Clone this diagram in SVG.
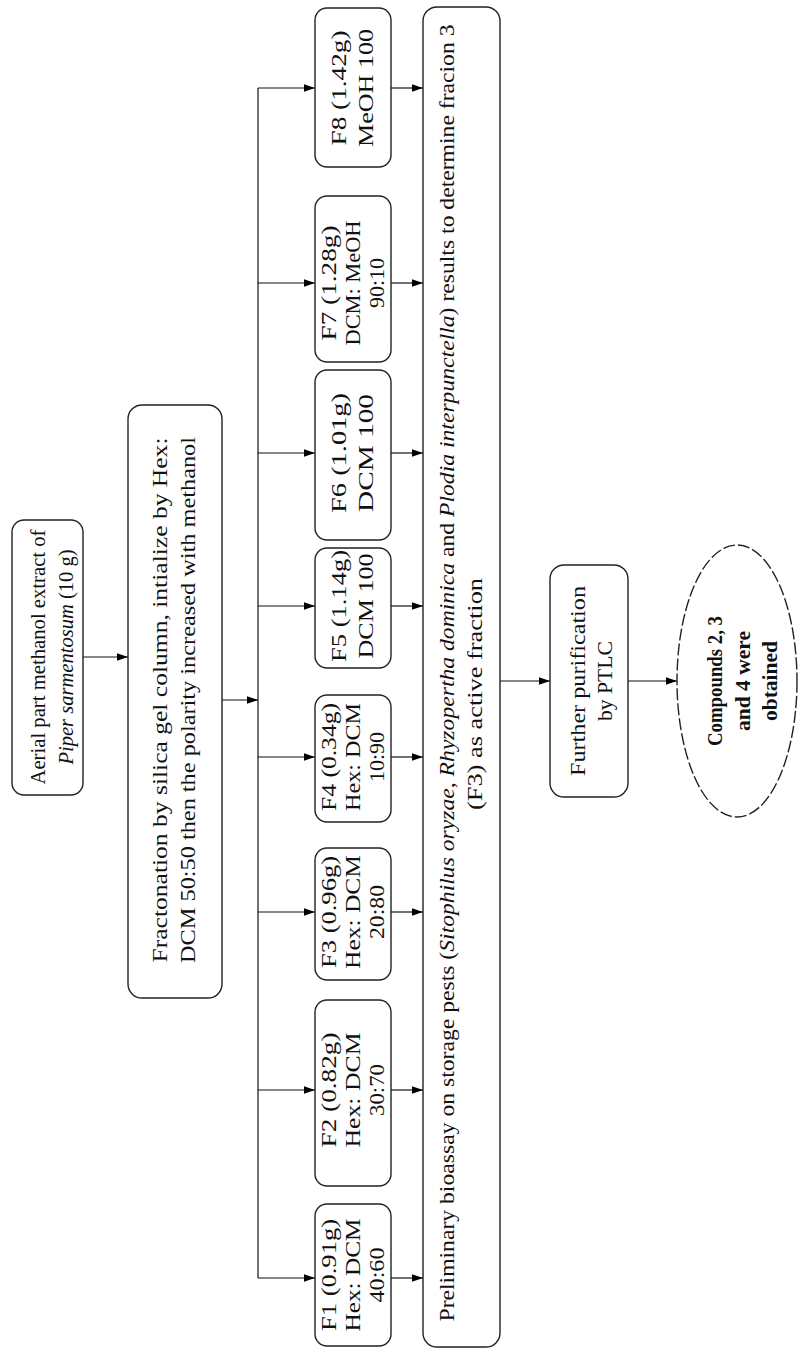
<svg xmlns="http://www.w3.org/2000/svg" width="811" height="1359" viewBox="0 0 811 1359">
<defs>
<marker id="ah" viewBox="0 0 10 10" refX="10" refY="5" markerWidth="11" markerHeight="11" markerUnits="userSpaceOnUse" orient="auto"><path d="M0,1.5 L10,5 L0,8.5 z" fill="#000"/></marker>
<style>
.box{fill:none;stroke:#222;stroke-width:1.4}
.t{font-family:"Liberation Serif","Times New Roman",serif;font-size:21px;fill:#111}
.b{font-weight:bold}
.c{stroke:#111;stroke-width:1.2;fill:none}
.a{marker-end:url(#ah)}
</style>
</defs>
<rect width="811" height="1359" fill="#fff"/>
<g id="connectors">
<line class="c a" x1="83" y1="657" x2="128" y2="657"/>
<line class="c a" x1="222" y1="700" x2="258" y2="700"/>
<line class="c" x1="258" y1="88" x2="258" y2="1278"/>
<line class="c a" x1="258" y1="88" x2="315" y2="88"/>
<line class="c a" x1="258" y1="283" x2="315" y2="283"/>
<line class="c a" x1="258" y1="453" x2="315" y2="453"/>
<line class="c a" x1="258" y1="606" x2="315" y2="606"/>
<line class="c a" x1="258" y1="757" x2="315" y2="757"/>
<line class="c a" x1="258" y1="912" x2="315" y2="912"/>
<line class="c a" x1="258" y1="1090" x2="315" y2="1090"/>
<line class="c a" x1="258" y1="1278" x2="315" y2="1278"/>
<line class="c a" x1="391" y1="88" x2="423" y2="88"/>
<line class="c a" x1="391" y1="283" x2="423" y2="283"/>
<line class="c a" x1="391" y1="453" x2="423" y2="453"/>
<line class="c a" x1="391" y1="606" x2="423" y2="606"/>
<line class="c a" x1="391" y1="757" x2="423" y2="757"/>
<line class="c a" x1="391" y1="912" x2="423" y2="912"/>
<line class="c a" x1="391" y1="1090" x2="423" y2="1090"/>
<line class="c a" x1="391" y1="1278" x2="423" y2="1278"/>
<line class="c a" x1="500" y1="681" x2="550" y2="681"/>
<line class="c a" x1="628" y1="681" x2="677" y2="681"/>
</g>
<g id="aerial">
<rect class="box" x="12" y="520" width="71" height="275" rx="12"/>
<text class="t" text-anchor="middle" textLength="255" lengthAdjust="spacingAndGlyphs" transform="translate(45,657) rotate(-90)">Aerial part methanol extract of</text>
<text class="t" text-anchor="middle" textLength="215" lengthAdjust="spacingAndGlyphs" transform="translate(73,657) rotate(-90)"><tspan font-style="italic">Piper sarmentosum</tspan> (10 g)</text>
</g>
<g id="fractionation">
<rect class="box" x="128" y="405" width="94" height="593" rx="14"/>
<text class="t" text-anchor="middle" textLength="525" lengthAdjust="spacingAndGlyphs" transform="translate(167,700) rotate(-90)">Fractonation by silica gel column, intialize by Hex:</text>
<text class="t" text-anchor="middle" textLength="526" lengthAdjust="spacingAndGlyphs" transform="translate(195,700) rotate(-90)">DCM 50:50 then the polarity increased with methanol</text>
</g>
<g id="f8">
<rect class="box" x="315" y="8" width="76" height="159" rx="12"/>
<text class="t" text-anchor="middle" textLength="115" lengthAdjust="spacingAndGlyphs" transform="translate(346,88) rotate(-90)">F8 (1.42g)</text>
<text class="t" text-anchor="middle" textLength="118" lengthAdjust="spacingAndGlyphs" transform="translate(373,88) rotate(-90)">MeOH 100</text>
</g>
<g id="f7">
<rect class="box" x="315" y="196" width="76" height="166" rx="12"/>
<text class="t" text-anchor="middle" textLength="115" lengthAdjust="spacingAndGlyphs" transform="translate(336,283) rotate(-90)">F7 (1.28g)</text>
<text class="t" text-anchor="middle" textLength="125" lengthAdjust="spacingAndGlyphs" transform="translate(360,283) rotate(-90)">DCM: MeOH</text>
<text class="t" text-anchor="middle" textLength="50" lengthAdjust="spacingAndGlyphs" transform="translate(384,283) rotate(-90)">90:10</text>
</g>
<g id="f6">
<rect class="box" x="315" y="370" width="76" height="170" rx="12"/>
<text class="t" text-anchor="middle" textLength="120" lengthAdjust="spacingAndGlyphs" transform="translate(346,453) rotate(-90)">F6 (1.01g)</text>
<text class="t" text-anchor="middle" textLength="118" lengthAdjust="spacingAndGlyphs" transform="translate(373,453) rotate(-90)">DCM 100</text>
</g>
<g id="f5">
<rect class="box" x="315" y="548" width="76" height="120" rx="12"/>
<text class="t" text-anchor="middle" textLength="112" lengthAdjust="spacingAndGlyphs" transform="translate(346,606) rotate(-90)">F5 (1.14g)</text>
<text class="t" text-anchor="middle" textLength="105" lengthAdjust="spacingAndGlyphs" transform="translate(373,606) rotate(-90)">DCM 100</text>
</g>
<g id="f4">
<rect class="box" x="315" y="695" width="76" height="127" rx="12"/>
<text class="t" text-anchor="middle" textLength="108" lengthAdjust="spacingAndGlyphs" transform="translate(336,757) rotate(-90)">F4 (0.34g)</text>
<text class="t" text-anchor="middle" textLength="108" lengthAdjust="spacingAndGlyphs" transform="translate(360,757) rotate(-90)">Hex: DCM</text>
<text class="t" text-anchor="middle" textLength="50" lengthAdjust="spacingAndGlyphs" transform="translate(384,757) rotate(-90)">10:90</text>
</g>
<g id="f3">
<rect class="box" x="315" y="848" width="76" height="132" rx="12"/>
<text class="t" text-anchor="middle" textLength="112" lengthAdjust="spacingAndGlyphs" transform="translate(336,912) rotate(-90)">F3 (0.96g)</text>
<text class="t" text-anchor="middle" textLength="114" lengthAdjust="spacingAndGlyphs" transform="translate(360,912) rotate(-90)">Hex: DCM</text>
<text class="t" text-anchor="middle" textLength="54" lengthAdjust="spacingAndGlyphs" transform="translate(384,912) rotate(-90)">20:80</text>
</g>
<g id="f2">
<rect class="box" x="315" y="1000" width="76" height="186" rx="12"/>
<text class="t" text-anchor="middle" textLength="115" lengthAdjust="spacingAndGlyphs" transform="translate(336,1090) rotate(-90)">F2 (0.82g)</text>
<text class="t" text-anchor="middle" textLength="115" lengthAdjust="spacingAndGlyphs" transform="translate(360,1090) rotate(-90)">Hex: DCM</text>
<text class="t" text-anchor="middle" textLength="52" lengthAdjust="spacingAndGlyphs" transform="translate(384,1090) rotate(-90)">30:70</text>
</g>
<g id="f1">
<rect class="box" x="315" y="1204" width="76" height="142" rx="12"/>
<text class="t" text-anchor="middle" textLength="112" lengthAdjust="spacingAndGlyphs" transform="translate(336,1275) rotate(-90)">F1 (0.91g)</text>
<text class="t" text-anchor="middle" textLength="113" lengthAdjust="spacingAndGlyphs" transform="translate(360,1275) rotate(-90)">Hex: DCM</text>
<text class="t" text-anchor="middle" textLength="55" lengthAdjust="spacingAndGlyphs" transform="translate(384,1275) rotate(-90)">40:60</text>
</g>
<g id="bioassay">
<rect class="box" x="423" y="7" width="77" height="1340" rx="14"/>
<text class="t" text-anchor="middle" textLength="1297" lengthAdjust="spacingAndGlyphs" transform="translate(454,673) rotate(-90)">Preliminary bioassay on storage pests (<tspan font-style="italic">Sitophilus oryzae</tspan>, <tspan font-style="italic">Rhyzopertha dominica</tspan> and <tspan font-style="italic">Plodia interpunctella</tspan>) results to determine fracion 3</text>
<text class="t" text-anchor="middle" textLength="232" lengthAdjust="spacingAndGlyphs" transform="translate(482,694) rotate(-90)">(F3) as active fraction</text>
</g>
<g id="purification">
<rect class="box" x="550" y="565" width="78" height="232" rx="14"/>
<text class="t" text-anchor="middle" textLength="190" lengthAdjust="spacingAndGlyphs" transform="translate(585,681) rotate(-90)">Further purification</text>
<text class="t" text-anchor="middle" textLength="80" lengthAdjust="spacingAndGlyphs" transform="translate(612,681) rotate(-90)">by PTLC</text>
</g>
<g id="compounds">
<ellipse cx="737" cy="681" rx="60" ry="136" fill="none" stroke="#222" stroke-width="1.4" stroke-dasharray="12 3"/>
<text class="t b" text-anchor="middle" textLength="130" lengthAdjust="spacingAndGlyphs" transform="translate(722,681) rotate(-90)">Compounds 2, 3</text>
<text class="t b" text-anchor="middle" textLength="100" lengthAdjust="spacingAndGlyphs" transform="translate(750,681) rotate(-90)">and 4 were</text>
<text class="t b" text-anchor="middle" textLength="80" lengthAdjust="spacingAndGlyphs" transform="translate(777,681) rotate(-90)">obtained</text>
</g>
</svg>
